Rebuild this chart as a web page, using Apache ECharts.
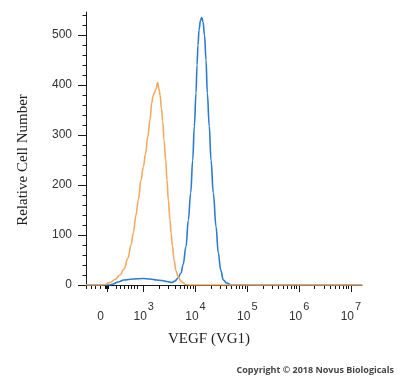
<!DOCTYPE html>
<html>
<head>
<meta charset="utf-8">
<script src="https://cdn.jsdelivr.net/npm/echarts@6/dist/echarts.min.js"></script>
<style>
  html, body { margin: 0; padding: 0; background: #fff; }
  #chart { width: 400px; height: 378px; }
</style>
</head>
<body>
<div id="chart"></div>
<script>
// x values are in decade units of the display scale (3 = 10^3, 4 = 10^4 ...)
const xMin = 1.886;
const xMax = 7.214;
const zeroPos = 2.291;

// isotype control (orange)
const isoX = [1.886, 2.156, 2.253, 2.349, 2.446, 2.542, 2.620, 2.697, 2.755, 2.799, 2.851, 2.896, 2.948, 2.992, 3.035, 3.077, 3.122, 3.154, 3.180, 3.208, 3.237, 3.270, 3.295, 3.315, 3.344, 3.367, 3.392, 3.425, 3.450, 3.475, 3.508, 3.527, 3.556, 3.585, 3.624, 3.668, 3.720, 3.764, 3.817, 3.894, 7.214];
const isoY = [0, 0, 1, 5, 11, 20, 32, 54, 80, 104, 140, 170, 210, 236, 262, 296, 330, 364, 378, 384, 392, 405, 392, 380, 352, 328, 290, 250, 210, 170, 130, 104, 78, 50, 28, 16, 8, 4, 1, 0, 0];

// VEGF stained (blue)
const vegfX = [1.886, 2.349, 2.407, 2.504, 2.620, 2.793, 2.986, 3.122, 3.251, 3.353, 3.444, 3.541, 3.604, 3.662, 3.720, 3.759, 3.817, 3.861, 3.907, 3.946, 3.977, 4.010, 4.029, 4.048, 4.068, 4.097, 4.120, 4.145, 4.174, 4.203, 4.228, 4.266, 4.299, 4.344, 4.396, 4.440, 4.486, 4.537, 4.602, 4.685, 7.214];
const vegfY = [0, 0, 2, 6, 10, 12, 13, 12, 10, 9, 7, 5, 8, 14, 24, 40, 77, 130, 184, 250, 317, 384, 440, 480, 510, 530, 535, 526, 500, 450, 384, 317, 250, 184, 117, 64, 30, 10, 4, 0, 0];

const yTicks = [0, 100, 200, 300, 400, 500];
const decades = [3, 4, 5, 6, 7];
const xLabelPos = [2.17, 3, 4, 5, 6, 7];
// small ticks in the linear part around zero
const linTicks = [1.900, 1.983, 2.073, 2.156, 2.253, 2.272, 2.311, 2.479, 2.556, 2.625, 2.703, 2.768, 2.826, 2.884];

let yMinor = [];
for (let v = 0; v <= 540; v += 20) yMinor.push(v);

let xMinor = linTicks.slice();
for (let d = 3; d < 7; d++) {
  for (let k = 2; k <= 9; k++) {
    xMinor.push(d + Math.log10(k));
  }
}

function pairs(xs, ys) {
  return xs.map((x, i) => [x, ys[i]]);
}

const chart = echarts.init(document.getElementById('chart'));
chart.setOption({
  animation: false,
  grid: {
    left: 86,
    right: 38,
    top: 12,
    bottom: 93,
    containLabel: false,
    outerBoundsMode: 'none'
  },
  xAxis: [{
    type: 'value',
    min: xMin,
    max: xMax,
    position: 'bottom',
    axisLine: { show: true, onZero: false, lineStyle: { color: '#1a1a1a', width: 1 } },
    axisTick: {
      show: true,
      length: 7,
      customValues: [zeroPos].concat(decades),
      lineStyle: { color: '#1a1a1a', width: 1 }
    },
    axisLabel: {
      customValues: xLabelPos,
      margin: 16,
      color: '#333',
      fontFamily: 'Liberation Sans',
      fontSize: 12,
      lineHeight: 31,
      formatter: function (v) {
        if (v < 2.5) return '0';
        return '10{sup|' + Math.round(v) + '}';
      },
      rich: {
        sup: { fontSize: 11, lineHeight: 11, padding: [0, 0, 20, 1], color: '#333', fontFamily: 'Liberation Sans' }
      }
    },
    splitLine: { show: false }
  }, {
    type: 'value',
    min: xMin,
    max: xMax,
    position: 'bottom',
    axisLine: { show: false, onZero: false },
    axisTick: {
      show: true,
      length: 4,
      customValues: xMinor,
      lineStyle: { color: '#111', width: 1 }
    },
    axisLabel: { show: false },
    splitLine: { show: false }
  }],
  yAxis: [{
    type: 'value',
    min: 0,
    max: 546,
    position: 'left',
    axisLine: { show: true, onZero: false, lineStyle: { color: '#1a1a1a', width: 1 } },
    axisTick: {
      show: true,
      length: 8,
      customValues: yTicks,
      lineStyle: { color: '#1a1a1a', width: 1 }
    },
    axisLabel: {
      customValues: yTicks,
      margin: 14,
      color: '#333',
      fontFamily: 'Liberation Sans',
      fontSize: 12
    },
    splitLine: { show: false }
  }, {
    type: 'value',
    min: 0,
    max: 546,
    position: 'left',
    axisLine: { show: false, onZero: false },
    axisTick: {
      show: true,
      length: 3.5,
      customValues: yMinor,
      lineStyle: { color: '#1a1a1a', width: 1 }
    },
    axisLabel: { show: false },
    splitLine: { show: false }
  }],
  series: [{
    name: 'VEGF',
    type: 'line',
    data: pairs(vegfX, vegfY),
    showSymbol: false,
    smooth: 0.4,
    smoothMonotone: 'x',
    lineStyle: { color: '#2b7bd3', width: 1.6 },
    z: 3
  }, {
    name: 'Isotype',
    type: 'line',
    data: pairs(isoX, isoY),
    showSymbol: false,
    smooth: 0.4,
    smoothMonotone: 'x',
    lineStyle: { color: '#f5a95c', width: 1.6 },
    z: 4
  }],
  graphic: [{
    type: 'text',
    x: 23,
    y: 160,
    rotation: Math.PI / 2,
    style: {
      text: 'Relative Cell Number',
      font: '15px "Liberation Serif"',
      fill: '#222',
      align: 'center',
      verticalAlign: 'middle'
    }
  }, {
    type: 'text',
    x: 209,
    y: 339,
    style: {
      text: 'VEGF (VG1)',
      font: '15px "Liberation Serif"',
      fill: '#222',
      align: 'center',
      verticalAlign: 'middle'
    }
  }, {
    type: 'text',
    x: 394,
    y: 370,
    style: {
      text: 'Copyright © 2018 Novus Biologicals',
      font: 'bold 9px "Open Sans"',
      fill: '#444',
      align: 'right',
      verticalAlign: 'middle'
    }
  }]
});
</script>
</body>
</html>
